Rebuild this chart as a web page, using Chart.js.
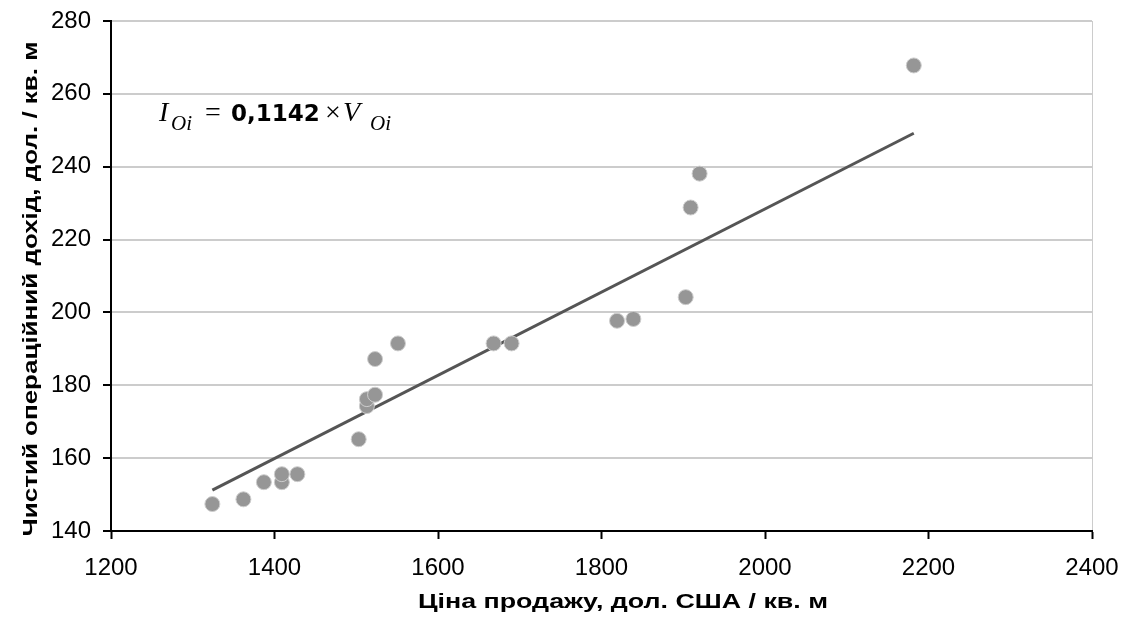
<!DOCTYPE html>
<html>
<head>
<meta charset="utf-8">
<script src="https://cdn.jsdelivr.net/npm/chart.js@4.4.0/dist/chart.umd.min.js"></script>
<style>
  html, body { margin: 0; padding: 0; background: #fff; }
  #wrap { width: 1125px; height: 630px; }
</style>
</head>
<body>
<div id="wrap"><canvas id="myChart" width="1125" height="630"></canvas></div>
<script>
// price of sale, USD / sq. m
var prices = [1324, 1362, 1387, 1409, 1409, 1428, 1503, 1513, 1513, 1523, 1523, 1551,
              1668, 1690, 1819, 1839, 1903, 1909, 1920, 2182];
// net operating income, USD / sq. m
var incomes = [147.4, 148.7, 153.4, 153.4, 155.6, 155.6, 165.2, 174.3, 176.2, 177.4, 187.2, 191.5,
               191.5, 191.5, 197.7, 198.2, 204.2, 228.8, 238.1, 267.8];
var slope = 0.1142;
var xTicks = [1200, 1400, 1600, 1800, 2000, 2200, 2400];
var yTicks = [140, 160, 180, 200, 220, 240, 260, 280];
var xTitle = 'Ціна продажу, дол. США / кв. м';
var yTitle = 'Чистий операційний дохід, дол. / кв. м';

var FONT = "'Liberation Sans', Arial, sans-serif";

// draw a label stretched to a given length (titles in the original are wide)
function stretchedText(c, txt, cx, cy, len, rot) {
    c.save();
    c.font = "bold 21px " + FONT;
    c.textAlign = 'center';
    c.textBaseline = 'alphabetic';
    var w = c.measureText(txt).width;
    c.translate(cx, cy);
    if (rot) c.rotate(-Math.PI / 2);
    c.scale(len / w, 1);
    c.fillStyle = '#000';
    c.fillText(txt, 0, 0);
    c.restore();
}

function init() {
    var points = prices.map(function (p, i) { return { x: p, y: incomes[i] }; });
    var xMin = Math.min.apply(null, prices), xMax = Math.max.apply(null, prices);
    var trend = [{ x: xMin, y: slope * xMin }, { x: xMax, y: slope * xMax }];

    var extras = {
        id: 'extras',
        afterDraw: function (chart) {
            var c = chart.ctx;
            stretchedText(c, xTitle, 623, 608, 410, false);
            stretchedText(c, yTitle, 37, 289, 495, true);

            // regression equation
            c.save();
            c.fillStyle = '#000';
            c.textBaseline = 'alphabetic';
            var base = 121;
            function put(txt, font, x, dy) {
                c.font = font;
                c.fillText(txt, x, base + (dy || 0));
            }
            put('I', "italic 28px 'Liberation Serif', serif", 159);
            put('Oi', "italic 21px 'Liberation Serif', serif", 171, 9);
            put('=', "28px 'Liberation Serif', serif", 205);
            put('0,1142', "bold 23px 'DejaVu Sans', sans-serif", 231);
            put('\u00d7', "28px 'Liberation Serif', serif", 325);
            put('V', "italic 28px 'Liberation Serif', serif", 343);
            put('Oi', "italic 21px 'Liberation Serif', serif", 370, 9);
            c.restore();
        }
    };

    var ctx = document.getElementById('myChart').getContext('2d');
    var chart = new Chart(ctx, {
        type: 'scatter',
        data: {
            datasets: [{
                label: 'Дані',
                data: points,
                backgroundColor: 'rgb(150,150,150)',
                borderColor: 'rgb(205,205,205)',
                borderWidth: 1,
                pointRadius: 7.5
            }, {
                type: 'line',
                label: 'Тренд',
                data: trend,
                borderColor: '#555555',
                borderWidth: 3,
                pointRadius: 0,
                fill: false
            }]
        },
        options: {
            responsive: false,
            animation: false,
            layout: { padding: { top: 21, right: 33, left: 0, bottom: 0 } },
            plugins: { legend: { display: false }, tooltip: { enabled: false } },
            scales: {
                x: {
                    type: 'linear',
                    min: 1200, max: 2400,
                    afterBuildTicks: function (axis) { axis.ticks = xTicks.map(function (v) { return { value: v }; }); },
                    afterFit: function (axis) { axis.height = 99; axis.paddingLeft = 0; axis.paddingRight = 0; },
                    border: { color: '#000', width: 2 },
                    grid: {
                        drawOnChartArea: true, drawTicks: true, tickLength: 8, tickColor: '#000', tickWidth: 2,
                        color: function (g) { return g.tick && g.tick.value === 2400 ? '#cccccc' : 'rgba(0,0,0,0)'; }
                    },
                    ticks: { color: '#000', font: { family: FONT, size: 24 }, padding: 15, maxRotation: 0,
                             callback: function (v) { return String(v); } }
                },
                y: {
                    type: 'linear',
                    min: 140, max: 280,
                    afterBuildTicks: function (axis) { axis.ticks = yTicks.map(function (v) { return { value: v }; }); },
                    afterFit: function (axis) { axis.width = 111; axis.paddingTop = 0; axis.paddingBottom = 0; },
                    border: { color: '#000', width: 2 },
                    grid: { color: '#cccccc', lineWidth: 2, drawTicks: true, tickLength: 8, tickColor: '#000', tickWidth: 2 },
                    ticks: { color: '#000', font: { family: FONT, size: 24 }, padding: 12,
                             callback: function (v) { return String(v); } }
                }
            }
        },
        plugins: [extras]
    });
}
init();
</script>
</body>
</html>
